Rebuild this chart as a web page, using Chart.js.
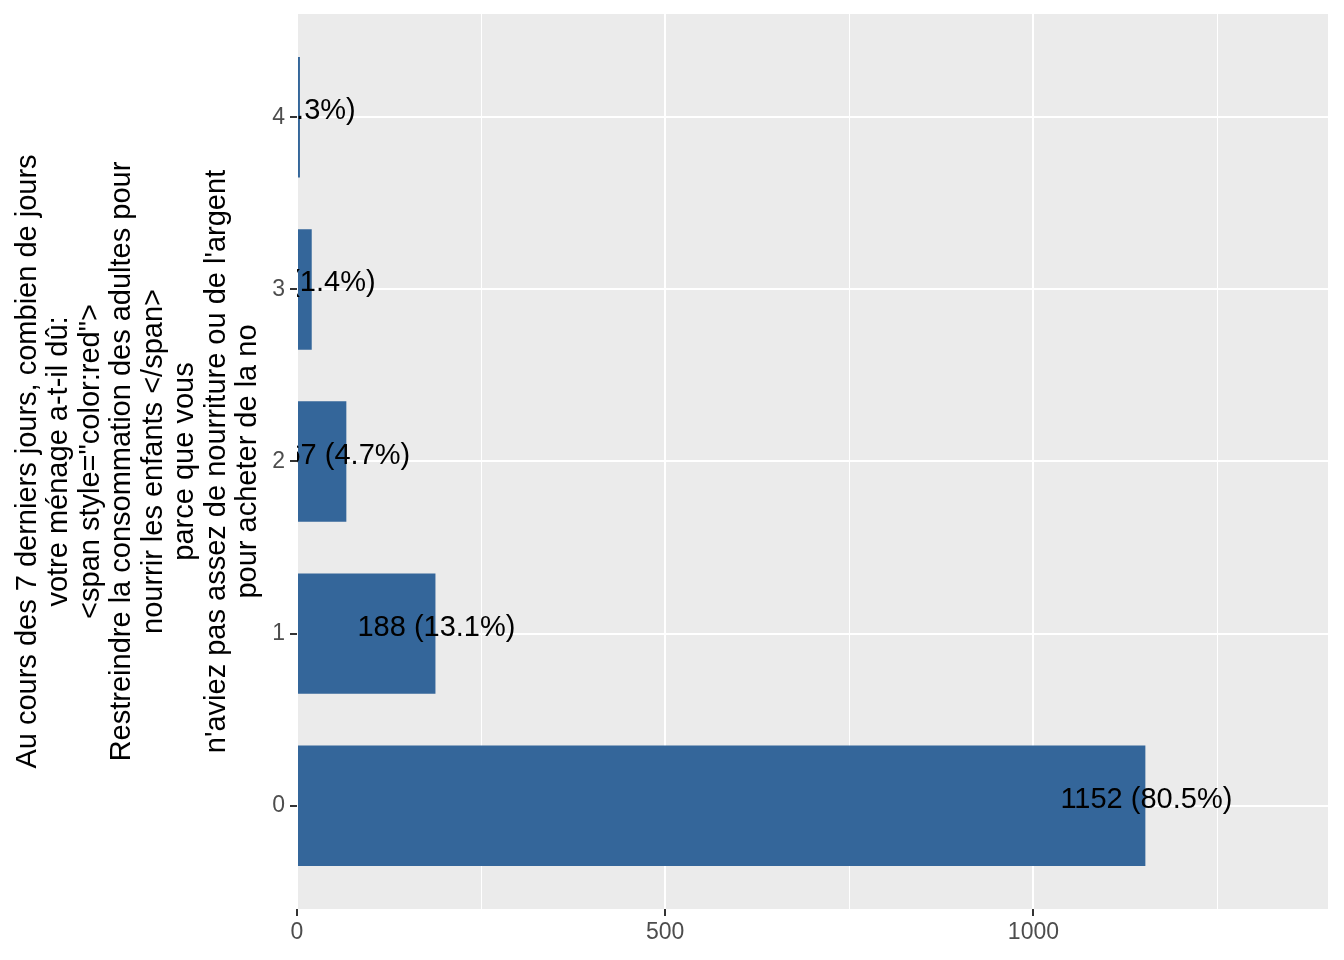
<!DOCTYPE html>
<html>
<head>
<meta charset="utf-8">
<script src="https://cdn.jsdelivr.net/npm/chart.js@4/dist/chart.umd.min.js"></script>
<style>
  html, body { margin: 0; padding: 0; background: #ffffff; }
  #wrap { width: 1344px; height: 960px; position: relative; }
</style>
</head>
<body>
<div id="wrap"><canvas id="c"></canvas></div>
<script>
const categories = ["0", "1", "2", "3", "4"];
const counts = [1152, 188, 67, 20, 4];
const percents = ["80.5%", "13.1%", "4.7%", "1.4%", "0.3%"];
const xTicks = [0, 250, 500, 750, 1000, 1250];
const xMajorTicks = [0, 500, 1000];
const yTitleLines = [
  "Au cours des 7 derniers jours, combien de jours",
  "votre ménage a-t-il dû:",
  "<span style=\"color:red\">",
  "Restreindre la consommation des adultes pour",
  "nourrir les enfants </span>",
  "parce que vous",
  "n'aviez pas assez de nourriture ou de l'argent",
  "pour acheter de la no"
];

const FONT = "'Liberation Sans', Arial, sans-serif";

const panelBg = {
  id: 'panelBg',
  beforeDraw(chart) {
    const {ctx, chartArea: a} = chart;
    ctx.save();
    ctx.fillStyle = '#EBEBEB';
    ctx.fillRect(a.left, a.top, a.right - a.left, a.bottom - a.top);
    ctx.restore();
  }
};

const barLabels = {
  id: 'barLabels',
  afterDatasetsDraw(chart) {
    const {ctx, chartArea: a, scales} = chart;
    ctx.save();
    ctx.beginPath();
    ctx.rect(a.left, a.top, a.right - a.left, a.bottom - a.top);
    ctx.clip();
    ctx.font = "29px " + FONT;
    ctx.fillStyle = '#000000';
    ctx.textAlign = 'center';
    ctx.textBaseline = 'alphabetic';
    counts.forEach((v, i) => {
      const x = scales.x.getPixelForValue(v);
      const y = scales.y.getPixelForValue(i);
      ctx.fillText(v + " (" + percents[i] + ")", x + 1, y + 2);
    });
    ctx.restore();
  }
};

new Chart(document.getElementById('c'), {
  type: 'bar',
  data: {
    datasets: [{
      data: counts.map((v, i) => ({x: v, y: i})),
      backgroundColor: '#34669A',
      borderWidth: 0,
      barPercentage: 0.7,
      categoryPercentage: 1.0
    }]
  },
  options: {
    indexAxis: 'y',
    responsive: true,
    maintainAspectRatio: false,
    animation: false,
    layout: { padding: { top: 14, right: 16, bottom: 0, left: 0 } },
    plugins: { legend: { display: false }, tooltip: { enabled: false } },
    scales: {
      x: {
        type: 'linear',
        min: 0,
        max: 1400,
        offset: false,
        afterBuildTicks(scale) { scale.ticks = xTicks.map(v => ({value: v})); },
        afterFit(scale) { scale.height = 51; scale.paddingLeft = 0; scale.paddingRight = 0; },
        border: { display: false },
        grid: {
          offset: false,
          color: '#FFFFFF',
          lineWidth: ctx => xMajorTicks.includes(ctx.tick && ctx.tick.value) ? 2 : 1,
          tickColor: ctx => xMajorTicks.includes(ctx.tick && ctx.tick.value) ? '#333333' : 'rgba(0,0,0,0)',
          tickLength: 7,
          tickWidth: 2,
          drawTicks: true
        },
        ticks: {
          color: '#4D4D4D',
          font: { family: FONT, size: 23 },
          padding: 3,
          maxRotation: 0,
          autoSkip: false,
          callback: v => xMajorTicks.includes(v) ? String(v) : ''
        }
      },
      y: {
        type: 'linear',
        min: -0.6,
        max: 4.6,
        offset: false,
        afterBuildTicks(scale) { scale.ticks = categories.map((c, i) => ({value: i})); },
        afterFit(scale) { scale.width = 297; scale.paddingTop = 0; scale.paddingBottom = 0; },
        border: { display: false },
        grid: {
          offset: false,
          color: '#FFFFFF',
          lineWidth: 2,
          tickColor: '#333333',
          tickLength: 7,
          tickWidth: 2
        },
        ticks: {
          color: '#4D4D4D',
          font: { family: FONT, size: 23 },
          padding: 5,
          autoSkip: false,
          callback: v => categories[v]
        },
        title: {
          display: true,
          text: yTitleLines,
          color: '#000000',
          font: { family: FONT, size: 29, lineHeight: '31.5px' },
          padding: { top: 12, bottom: 0 }
        }
      }
    }
  },
  plugins: [panelBg, barLabels]
});
</script>
</body>
</html>
